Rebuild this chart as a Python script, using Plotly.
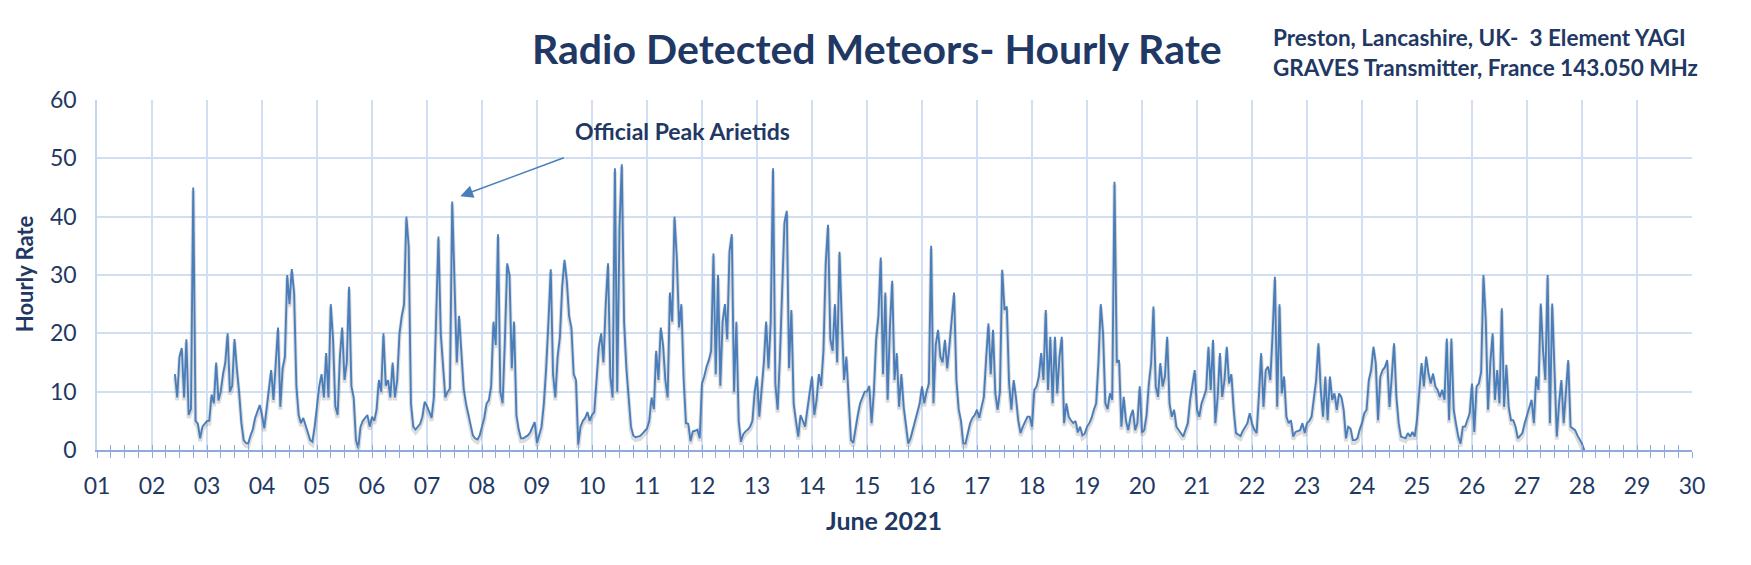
import pandas as pd
import plotly.graph_objects as go

# Hourly radio meteor counts, June 2021 (first value = 2 June 10:00 UT)
start_time = "2021-06-02 10:00"
d02 = [13, 9, 16, 17.5, 9, 19, 6, 7, 45, 5, 4.5, 2, 4, 4.5]
d03 = [5, 5, 9.5, 8, 15, 8.5, 10, 13, 15, 20, 10, 11, 19, 14, 10, 4.6, 1.7, 1.2, 1.1, 2.5, 3.5, 5.5, 6.5, 7.7]
d04 = [6, 3.7, 7, 11, 13.7, 8.6, 15, 21, 7.4, 14, 16, 30, 25, 31, 27, 11, 6, 4.6, 5.5, 4, 3, 1.7, 1.4, 4]
d05 = [7.4, 11, 13, 9, 16.6, 9, 25, 19, 7.5, 6, 16, 21, 12, 15, 28, 11, 9, 1.7, 0.3, 4, 5, 5.5, 6, 4]
d06 = [5.7, 5, 6.9, 12, 10, 20, 11, 12, 9, 15, 9, 12, 20, 23, 25, 40, 35, 8, 4, 3.5, 4, 4.5, 5.7, 8.3]
d07 = [7.5, 6.5, 5.5, 9, 22, 36.6, 20, 14, 9, 10, 10.5, 42.6, 30, 15, 23, 17, 10.5, 8, 6, 4.5, 2.5, 2, 1.8, 2.5]
d08 = [4, 5.5, 8, 8.5, 11, 22, 18, 37, 10, 8, 19, 32, 30, 14, 22, 6, 3.5, 2, 2, 2.2, 2.5, 3, 4, 4.8]
d09 = [1.2, 2.5, 4, 8, 14, 22, 31, 13, 9, 16, 19.4, 28, 32.6, 29, 23, 21, 13, 12, 0.9, 4, 5, 5.5, 6.5, 5]
d10 = [6, 6.5, 12, 17.7, 20, 15, 25, 32, 12.6, 9, 48.3, 10, 38, 49, 22, 14, 9, 4, 2.5, 2.2, 2.3, 2.4, 2.8, 3.3]
d11 = [3.7, 5, 9, 7, 17, 12, 21, 18, 12, 9, 27, 22, 40, 33, 21, 25, 12, 4.6, 4.5, 1.5, 3.2, 3.3, 3.5, 2]
d12 = [11.4, 12.6, 14.3, 15.4, 17, 33.7, 13, 30, 11, 22, 25, 19, 34, 37, 10, 22, 5, 1.4, 2.7, 3.2, 3.5, 4, 5, 10]
d13 = [12.6, 5.7, 10.3, 15, 22, 14, 22, 48.3, 11.4, 6.9, 16, 29, 39, 41, 14, 24, 8, 5, 2.3, 6, 5, 4, 7, 10]
d14 = [12.6, 6, 8.6, 13, 11, 17, 32, 38.6, 19, 17, 25, 15, 34, 22, 12, 16, 8, 1.7, 1.2, 4, 6, 8, 9, 10]
d15 = [10, 11, 4.6, 10, 19, 23, 33, 13, 27, 8.6, 21, 29, 12, 16.6, 7.4, 13, 7.4, 4, 1.1, 2, 3.5, 5, 6.9, 8]
d16 = [10.9, 8, 10, 11.4, 35, 8, 18, 20.6, 16, 15, 18.9, 14, 18, 22, 27, 12, 7, 5, 1.1, 1.1, 3, 4.6, 5.5, 6]
d17 = [6.9, 5.5, 7.4, 9.1, 15.7, 21.7, 13, 20.6, 9.7, 6.9, 10, 30.9, 24, 24.6, 11.4, 6.9, 12, 9, 5, 2.9, 4, 5, 5.7, 5.7]
d18 = [4, 10.3, 10.9, 12.6, 16.6, 12, 24, 10.3, 19.4, 8, 19.4, 9.7, 16, 19.4, 4.6, 8, 5.7, 5.1, 4.6, 5, 3, 4, 2.5, 2.8]
d19 = [4, 4.6, 5.5, 6.9, 8, 15, 25, 20, 8, 7, 9.7, 8.6, 46, 15, 15.4, 4, 9.1, 5, 3.4, 5.7, 6.9, 3.4, 4.6, 10.9]
d20 = [3, 3.4, 6, 11.4, 14.9, 24.6, 10.9, 9.1, 14.9, 10.9, 12.6, 19.4, 8, 5.7, 6.9, 4, 3.4, 2.9, 2.3, 3.5, 4.6, 8.6, 11, 13.7]
d21 = [6.9, 5.7, 8, 9, 10.3, 17.7, 10.3, 18.9, 4.6, 9, 16.6, 9.1, 12, 17.7, 11.4, 13, 6.9, 2.9, 2.6, 2.4, 3.3, 4, 4.6, 6.3]
d22 = [4.5, 3.5, 2.9, 9.1, 16.6, 7.4, 13.7, 14.3, 12, 20, 29.7, 7.4, 25, 9.7, 12.6, 5.7, 4.6, 5.1, 2.3, 3.1, 3.2, 3.4, 4.6, 2.9]
d23 = [4.6, 5, 5.7, 9, 12, 18.3, 10.3, 5.7, 12.6, 5.1, 12.6, 8.6, 9.7, 6.9, 9.7, 9.1, 6.9, 2, 4, 3.7, 1.7, 1.7, 2, 3.5]
d24 = [4.6, 6.3, 6.9, 12, 13.7, 17.7, 14.9, 5.1, 12.6, 13.7, 14.2, 15.4, 7.4, 12.6, 18.3, 9.1, 4.6, 2.3, 2.2, 2, 2.9, 2.3, 3.1, 2.3]
d25 = [5.1, 10.3, 14.9, 10.9, 16, 13.1, 11.4, 13.1, 10.9, 10.3, 9.1, 10.3, 8.6, 19.1, 5.1, 19.1, 6.9, 4.5, 2.3, 1.1, 4, 4, 5.1, 6.3]
d26 = [11.4, 3.1, 10.9, 11.4, 13.4, 30, 22.3, 6.9, 14.9, 20, 8.6, 13.7, 8, 24.3, 7.4, 14.6, 7.4, 5.1, 5.1, 4, 2, 2.5, 2.9, 4.6]
d27 = [6, 7.4, 8.6, 4.6, 12.6, 10.3, 25.1, 17.1, 12, 30, 4.6, 25.1, 13.1, 2.3, 8, 12, 4.6, 10, 15.4, 4, 3.7, 3.4, 2.5, 1.7]
d28 = [1.1, 0]

day_labels = [f"{d:02d}" for d in range(1, 31)]
y_ticks = [0, 10, 20, 30, 40, 50, 60]

hourly_rate = (d02 + d03 + d04 + d05 + d06 + d07 + d08 + d09 + d10 + d11 + d12 + d13 + d14 + d15
               + d16 + d17 + d18 + d19 + d20 + d21 + d22 + d23 + d24 + d25 + d26 + d27 + d28)
times = pd.date_range(start_time, periods=len(hourly_rate), freq="h")

NAVY = "#1F3864"
LINE = "#4A7EBB"
GRID = "#D2DEF1"
AXIS = "#8FAADC"
FONT = "Lato"
DAY_MS = 86400000
x_range = ["2021-06-01", "2021-06-30"]

fig = go.Figure()
# soft drop shadow (same data on a slightly shifted overlay axis)
fig.add_trace(go.Scatter(x=times, y=hourly_rate, mode="lines", xaxis="x", yaxis="y2",
                         line=dict(color="rgba(60,60,60,0.18)", width=4),
                         hoverinfo="skip", showlegend=False))
fig.add_trace(go.Scatter(x=times, y=hourly_rate, mode="lines", xaxis="x2", yaxis="y3",
                         line=dict(color=LINE, width=1.9), showlegend=False))

fig.update_layout(
    width=1751, height=565,
    margin=dict(l=97, r=59, t=100, b=115),
    paper_bgcolor="white", plot_bgcolor="white",
    font=dict(family=FONT, color=NAVY),
    xaxis=dict(type="date", range=x_range, tickmode="array",
               tickvals=pd.date_range("2021-06-01", periods=30, freq="D"), ticktext=day_labels,
               showgrid=True, gridcolor=GRID, gridwidth=1.6,
               showline=True, linecolor=AXIS, linewidth=1.6,
               ticks="outside", ticklen=6, tickcolor=AXIS, tickwidth=1.3,
               minor=dict(dtick=6 * 3600000, tick0="2021-06-01", ticks="outside", ticklen=6,
                          tickcolor=AXIS, tickwidth=1.3, showgrid=False),
               tickfont=dict(family=FONT, size=23, color=NAVY), ticklabelstandoff=9,
               zeroline=False),
    xaxis2=dict(type="date", range=x_range, overlaying="x", anchor="y", side="bottom",
                dtick=DAY_MS, tick0="2021-06-01", showgrid=False, showline=False,
                showticklabels=False, ticks="inside", ticklen=5, tickcolor=AXIS, tickwidth=1.3,
                minor=dict(dtick=6 * 3600000, tick0="2021-06-01", ticks="inside", ticklen=5,
                           tickcolor=AXIS, tickwidth=1.3, showgrid=False),
                zeroline=False),
    yaxis=dict(range=[0, 60], tickmode="array", tickvals=y_ticks,
               showgrid=True, gridcolor=GRID, gridwidth=1.6,
               showline=True, linecolor="#C5D5EE", linewidth=1.6, ticks="",
               tickfont=dict(family=FONT, size=23, color=NAVY), ticklabelstandoff=14,
               zeroline=False),
    yaxis2=dict(range=[0.5, 60.5], overlaying="y", anchor="x", visible=False),
    yaxis3=dict(range=[0, 60], overlaying="y", anchor="x2", visible=False),
)

fig.add_annotation(text="<b>Radio Detected Meteors- Hourly Rate</b>", xref="paper", yref="paper",
                   x=0.489, y=1.146, xanchor="center", yanchor="middle", showarrow=False,
                   font=dict(family=FONT, size=41, color=NAVY))
fig.add_annotation(text="<b>Preston, Lancashire, UK-  3 Element YAGI</b>", xref="paper", yref="paper",
                   x=0.736, y=1.18, xanchor="left", yanchor="middle", showarrow=False,
                   font=dict(family=FONT, size=22.5, color=NAVY))
fig.add_annotation(text="<b>GRAVES Transmitter, France 143.050 MHz</b>", xref="paper", yref="paper",
                   x=0.736, y=1.094, xanchor="left", yanchor="middle", showarrow=False,
                   font=dict(family=FONT, size=22.5, color=NAVY))
fig.add_annotation(text="<b>Official Peak Arietids</b>", xref="paper", yref="paper",
                   x=0.367, y=0.911, xanchor="center", yanchor="middle", showarrow=False,
                   font=dict(family=FONT, size=23, color=NAVY))
fig.add_annotation(text="", xref="x", yref="y", x="2021-06-07 14:31", y=43.5,
                   axref="x", ayref="y", ax="2021-06-09 12:22", ay=50.2,
                   showarrow=True, arrowhead=2, arrowsize=1.6, arrowwidth=1.6, arrowcolor=LINE)
fig.add_annotation(text="<b>Hourly Rate</b>", xref="paper", yref="paper",
                   x=-0.0454, y=0.504, xanchor="center", yanchor="middle", textangle=-90,
                   showarrow=False, font=dict(family=FONT, size=22, color=NAVY))
fig.add_annotation(text="<b>June 2021</b>", xref="paper", yref="paper",
                   x=0.4935, y=-0.2, xanchor="center", yanchor="middle",
                   showarrow=False, font=dict(family=FONT, size=25, color=NAVY))

fig.write_html("out.html")
